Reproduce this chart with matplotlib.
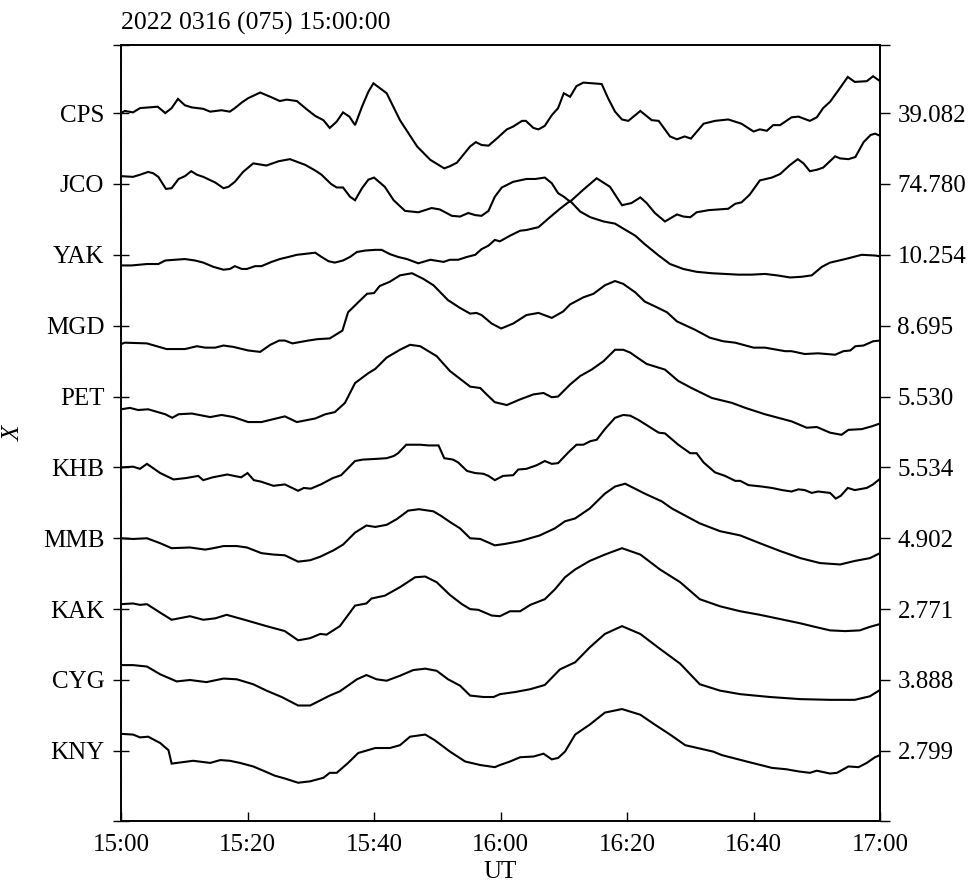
import numpy as np
import matplotlib.pyplot as plt

plt.rcParams['font.family'] = ['Liberation Serif', 'DejaVu Serif']

stations = ['CPS', 'JCO', 'YAK', 'MGD', 'PET', 'KHB', 'MMB', 'KAK', 'CYG', 'KNY']
scales = ['39.082', '74.780', '10.254', '8.695', '5.530',
          '5.534', '4.902', '2.771', '3.888', '2.799']
time_ticks = [0, 20, 40, 60, 80, 100, 120]
time_labels = ['15:00', '15:20', '15:40', '16:00', '16:20', '16:40', '17:00']

# minutes after 15:00 UT / normalised X deflection (1 = trace spacing)
cps_t = [0, 0.6, 1.9, 3.0, 5.8, 7.0, 8.0, 9.0, 10.1, 11.2, 13.0, 14.1, 15.9, 17.2, 18.0,
         19.1, 20.1, 22.0, 23.6, 25.1, 26.2, 27.8, 29.4, 30.7, 32.0, 33.0, 34.1, 35.1, 36.1,
         37.0, 38.1, 39.1, 39.9, 42.0, 44.1, 46.8, 48.9, 51.1, 52.0, 53.1, 55.2, 56.1, 57.0,
         58.1, 59.4, 61.0, 62.0, 63.4, 64.0, 65.2, 66.0, 67.0, 68.1, 69.1, 70.0, 71.0, 72.0,
         73.1, 76.0, 77.0, 78.1, 79.2, 80.2, 82.1, 83.9, 85.0, 86.8, 87.9, 89.1, 90.1, 92.1,
         93.9, 96.0, 98.1, 100.0, 101.0, 102.1, 103.1, 104.2, 106.0, 107.1, 108.9, 110.0,
         111.0, 112.1, 113.4, 114.9, 116.0, 117.9, 118.9, 120]
cps_x = [0.00, 0.03, 0.01, 0.07, 0.09, 0.00, 0.07, 0.20, 0.11, 0.08, 0.06, 0.02, 0.04, 0.02,
         0.07, 0.15, 0.21, 0.29, 0.23, 0.17, 0.19, 0.17, 0.05, -0.04, -0.10, -0.21, -0.12,
         0.01, -0.05, -0.17, 0.09, 0.30, 0.42, 0.28, -0.10, -0.47, -0.66, -0.78, -0.75, -0.70,
         -0.47, -0.41, -0.45, -0.46, -0.36, -0.23, -0.19, -0.11, -0.11, -0.21, -0.23, -0.18,
         -0.03, 0.07, 0.28, 0.23, 0.38, 0.43, 0.41, 0.21, 0.02, -0.09, -0.11, 0.03, -0.10,
         -0.11, -0.33, -0.37, -0.33, -0.36, -0.15, -0.11, -0.09, -0.15, -0.26, -0.23, -0.25,
         -0.17, -0.17, -0.06, -0.05, -0.11, -0.06, 0.07, 0.16, 0.32, 0.51, 0.44, 0.45, 0.52,
         0.45]

jco_t = [0, 1.9, 3.0, 4.3, 5.1, 5.9, 7.1, 8.0, 9.1, 10.1, 11.1, 12.0, 13.0, 14.9, 16.2,
         17.0, 18.0, 19.3, 20.9, 23.0, 24.9, 26.7, 29.1, 30.7, 31.7, 33.2, 34.1, 35.1, 36.2,
         37.0, 38.1, 39.1, 40.0, 41.7, 43.1, 44.9, 47.0, 49.1, 50.4, 52.3, 53.6, 54.9, 56.0,
         57.0, 58.1, 59.1, 60.2, 62.0, 64.1, 65.5, 67.0, 68.1, 69.1, 70.0, 71.0, 73.1, 75.2,
         77.3, 79.2, 80.7, 82.1, 83.1, 84.4, 86.0, 87.9, 88.9, 90.0, 91.0, 92.9, 96.0, 97.1,
         98.1, 99.4, 101.0, 102.9, 104.2, 105.8, 107.0, 107.9, 108.9, 110.0, 111.0, 112.9,
         113.7, 115.0, 116.1, 117.4, 118.5, 119.2, 120]
jco_x = [0.11, 0.10, 0.13, 0.17, 0.15, 0.10, -0.07, -0.06, 0.07, 0.11, 0.18, 0.13, 0.10,
         0.02, -0.06, -0.04, 0.03, 0.17, 0.29, 0.26, 0.32, 0.35, 0.27, 0.19, 0.13, 0.00,
         -0.05, -0.05, -0.18, -0.23, -0.06, 0.06, 0.09, -0.04, -0.23, -0.38, -0.40, -0.34,
         -0.36, -0.45, -0.46, -0.41, -0.44, -0.45, -0.38, -0.18, -0.05, 0.03, 0.07, 0.07,
         0.09, 0.01, -0.13, -0.18, -0.25, -0.08, 0.08, -0.04, -0.30, -0.27, -0.19, -0.27,
         -0.41, -0.53, -0.43, -0.46, -0.47, -0.40, -0.37, -0.35, -0.28, -0.26, -0.15, 0.05,
         0.09, 0.14, 0.27, 0.35, 0.29, 0.18, 0.20, 0.23, 0.39, 0.36, 0.35, 0.38, 0.59, 0.69,
         0.71, 0.68]

yak_t = [0, 1.7, 4.1, 5.9, 7.0, 8.5, 10.1, 11.7, 13.0, 14.6, 16.2, 17.2, 18.0, 19.1, 19.9,
         21.2, 22.2, 23.8, 25.1, 26.5, 27.8, 28.8, 30.7, 31.7, 32.8, 33.8, 35.1, 36.2, 37.3,
         38.6, 40.2, 41.2, 42.5, 43.8, 45.2, 47.0, 48.9, 51.0, 52.0, 53.3, 54.7, 56.0, 57.0,
         58.1, 59.1, 59.9, 61.5, 63.1, 64.1, 66.0, 67.8, 69.4, 71.0, 72.6, 74.2, 76.3, 78.1,
         79.4, 81.3, 82.8, 85.0, 86.8, 88.9, 91.0, 93.4, 95.5, 97.6, 99.7, 101.8, 103.7,
         105.8, 107.6, 109.2, 110.8, 112.1, 114.5, 117.1, 119.2, 120]
yak_x = [-0.15, -0.15, -0.13, -0.13, -0.08, -0.07, -0.06, -0.08, -0.11, -0.17, -0.21,
         -0.20, -0.16, -0.20, -0.20, -0.16, -0.16, -0.10, -0.06, -0.03, 0.00, 0.01, 0.03,
         -0.03, -0.09, -0.11, -0.08, -0.03, 0.04, 0.06, 0.07, 0.07, 0.01, -0.03, -0.06,
         -0.12, -0.07, -0.10, -0.07, -0.07, -0.03, 0.00, 0.08, 0.13, 0.21, 0.19, 0.27, 0.34,
         0.35, 0.39, 0.53, 0.65, 0.76, 0.61, 0.53, 0.47, 0.44, 0.37, 0.27, 0.15, -0.01,
         -0.13, -0.20, -0.24, -0.26, -0.27, -0.28, -0.28, -0.27, -0.29, -0.32, -0.31, -0.29,
         -0.17, -0.11, -0.06, 0.00, -0.01, -0.02]

mgd_t = [0, 0.6, 4.1, 7.2, 10.1, 12.0, 13.3, 14.9, 16.2, 17.8, 20.1, 22.0, 23.6, 25.0, 25.9,
         27.1, 29.6, 31.1, 33.0, 35.0, 35.9, 37.5, 38.9, 40.0, 40.9, 42.5, 44.1, 46.0, 47.8,
         49.4, 51.7, 53.6, 55.2, 56.2, 57.0, 58.6, 60.1, 62.0, 64.1, 66.0, 68.1, 69.9, 71.0,
         73.1, 74.7, 76.5, 78.1, 79.4, 80.5, 81.3, 82.8, 84.7, 86.3, 87.9, 90.8, 93.1, 95.2,
         97.1, 100.0, 101.8, 105.0, 106.0, 108.1, 110.2, 112.9, 114.2, 115.3, 116.1, 117.4,
         118.9, 120]
mgd_x = [-0.26, -0.24, -0.25, -0.33, -0.33, -0.29, -0.31, -0.31, -0.28, -0.30, -0.35,
         -0.37, -0.27, -0.21, -0.21, -0.25, -0.21, -0.19, -0.18, -0.07, 0.19, 0.33, 0.45,
         0.46, 0.56, 0.62, 0.71, 0.74, 0.66, 0.57, 0.36, 0.25, 0.17, 0.18, 0.15, 0.03, -0.04,
         0.03, 0.15, 0.18, 0.11, 0.20, 0.30, 0.40, 0.45, 0.57, 0.63, 0.59, 0.52, 0.47, 0.34,
         0.26, 0.19, 0.06, -0.06, -0.17, -0.22, -0.24, -0.31, -0.31, -0.36, -0.36, -0.40,
         -0.39, -0.41, -0.36, -0.35, -0.29, -0.28, -0.22, -0.21]

pet_t = [0, 1.4, 2.7, 4.3, 7.0, 8.1, 9.1, 11.2, 14.1, 15.9, 17.8, 20.1, 22.2, 25.9, 27.8,
         30.7, 32.3, 33.8, 35.4, 37.0, 39.1, 40.2, 42.0, 44.1, 45.7, 47.3, 49.9, 52.0, 55.2,
         56.8, 57.8, 59.1, 61.0, 63.1, 65.2, 66.8, 68.1, 69.1, 71.0, 72.6, 74.4, 76.3, 78.1,
         79.4, 80.5, 81.3, 83.1, 86.0, 88.1, 90.2, 93.4, 96.6, 98.7, 101.8, 106.0, 108.4,
         110.0, 112.1, 113.9, 115.0, 117.1, 118.7, 120]
pet_x = [-0.18, -0.16, -0.19, -0.18, -0.25, -0.30, -0.25, -0.24, -0.29, -0.26, -0.29,
         -0.36, -0.36, -0.28, -0.36, -0.31, -0.25, -0.22, -0.09, 0.19, 0.33, 0.39, 0.55,
         0.66, 0.73, 0.71, 0.57, 0.36, 0.14, 0.12, 0.03, -0.08, -0.12, -0.04, 0.03, 0.05,
         -0.01, 0.00, 0.17, 0.29, 0.38, 0.50, 0.66, 0.66, 0.62, 0.57, 0.46, 0.38, 0.22, 0.12,
         -0.02, -0.09, -0.16, -0.25, -0.35, -0.44, -0.43, -0.51, -0.54, -0.47, -0.46, -0.42,
         -0.38]

khb_t = [0, 1.9, 3.0, 4.1, 6.2, 8.3, 10.3, 12.2, 13.0, 14.5, 16.8, 19.0, 20.0, 21.0, 22.1,
         24.1, 25.9, 28.0, 28.9, 30.0, 31.6, 33.5, 34.8, 37.0, 38.2, 40.3, 42.0, 43.1, 43.8,
         45.1, 47.3, 48.6, 50.2, 51.1, 52.5, 53.3, 54.7, 56.0, 57.3, 58.1, 59.1, 60.4, 62.0,
         62.8, 64.1, 65.7, 67.0, 68.1, 69.1, 70.7, 72.0, 73.1, 74.2, 75.2, 76.5, 78.1, 79.4,
         80.5, 81.8, 83.4, 85.0, 86.0, 88.1, 90.0, 91.0, 92.1, 93.9, 95.5, 97.1, 97.9, 99.2,
         101.3, 102.9, 104.5, 106.0, 107.1, 108.1, 109.2, 110.2, 112.1, 113.0, 113.8, 114.9,
         116.0, 117.9, 118.9, 120]
khb_x = [0.00, 0.01, -0.02, 0.05, -0.08, -0.17, -0.15, -0.12, -0.18, -0.14, -0.10, -0.14,
         -0.08, -0.18, -0.20, -0.26, -0.24, -0.33, -0.29, -0.30, -0.24, -0.15, -0.11, 0.09,
         0.11, 0.12, 0.13, 0.16, 0.20, 0.32, 0.32, 0.31, 0.31, 0.13, 0.11, 0.07, -0.05, -0.08,
         -0.09, -0.12, -0.18, -0.12, -0.11, -0.03, -0.02, 0.03, 0.09, 0.05, 0.06, 0.21, 0.32,
         0.32, 0.37, 0.39, 0.54, 0.70, 0.74, 0.73, 0.67, 0.58, 0.49, 0.48, 0.32, 0.20, 0.20,
         0.07, -0.07, -0.12, -0.19, -0.19, -0.25, -0.27, -0.29, -0.32, -0.34, -0.31, -0.32,
         -0.36, -0.34, -0.36, -0.44, -0.40, -0.29, -0.32, -0.29, -0.24, -0.16]

mmb_t = [0, 1.9, 4.1, 6.2, 8.0, 10.9, 13.3, 14.6, 16.2, 18.3, 19.9, 22.2, 24.1, 25.9, 28.0,
         29.9, 31.5, 33.6, 35.1, 37.0, 38.8, 40.2, 42.0, 43.6, 45.4, 47.1, 49.4, 50.7, 52.0,
         53.6, 55.2, 56.8, 59.1, 60.7, 63.1, 66.2, 68.6, 70.2, 71.8, 74.1, 76.5, 78.1, 79.7,
         82.8, 85.5, 87.1, 89.4, 91.5, 94.7, 97.9, 101.0, 104.2, 107.4, 110.5, 113.7, 116.0,
         118.4, 120]
mmb_x = [0.00, -0.01, 0.00, -0.07, -0.14, -0.13, -0.16, -0.14, -0.11, -0.11, -0.13, -0.21,
         -0.23, -0.24, -0.33, -0.31, -0.26, -0.17, -0.09, 0.08, 0.18, 0.16, 0.19, 0.27, 0.39,
         0.41, 0.38, 0.31, 0.23, 0.14, 0.00, -0.01, -0.10, -0.08, -0.04, 0.04, 0.14, 0.24,
         0.28, 0.42, 0.63, 0.73, 0.77, 0.63, 0.52, 0.42, 0.31, 0.21, 0.10, 0.04, -0.07, -0.18,
         -0.28, -0.35, -0.37, -0.32, -0.28, -0.21]

kak_t = [0, 1.9, 3.0, 4.1, 6.2, 8.0, 10.9, 13.0, 14.9, 16.7, 19.9, 23.0, 25.9, 28.0, 29.9,
         31.5, 32.5, 34.6, 37.0, 38.8, 39.6, 41.7, 44.1, 46.5, 48.1, 49.9, 52.0, 53.9, 55.2,
         56.5, 58.6, 59.9, 61.5, 63.1, 64.7, 67.0, 68.6, 70.2, 71.8, 74.1, 76.5, 79.2, 82.1,
         85.2, 88.4, 91.5, 94.7, 97.9, 101.0, 104.2, 107.4, 109.7, 112.1, 114.5, 116.8, 118.4,
         120]
kak_x = [0.07, 0.08, 0.06, 0.07, -0.05, -0.15, -0.10, -0.15, -0.13, -0.08, -0.16, -0.24,
         -0.31, -0.44, -0.41, -0.35, -0.36, -0.24, 0.05, 0.08, 0.15, 0.19, 0.31, 0.45, 0.46,
         0.38, 0.20, 0.07, 0.00, -0.01, -0.09, -0.10, -0.03, -0.03, 0.06, 0.14, 0.28, 0.45,
         0.56, 0.68, 0.77, 0.86, 0.77, 0.56, 0.38, 0.14, 0.04, -0.03, -0.08, -0.14, -0.20,
         -0.25, -0.30, -0.31, -0.30, -0.25, -0.21]

cyg_t = [0, 1.9, 4.1, 6.2, 8.8, 10.9, 13.5, 16.2, 18.3, 20.9, 23.0, 25.4, 28.0, 29.9, 33.0,
         34.6, 37.3, 38.8, 40.4, 42.0, 44.1, 46.2, 48.1, 49.9, 51.7, 53.6, 55.2, 57.3, 58.9,
         59.9, 62.3, 64.7, 67.0, 69.4, 71.8, 74.1, 76.5, 79.2, 82.1, 85.2, 88.4, 91.5, 94.7,
         97.9, 102.6, 107.4, 112.1, 116.0, 118.4, 120]
cyg_x = [0.21, 0.21, 0.19, 0.08, -0.02, 0.00, -0.03, 0.02, 0.01, -0.06, -0.15, -0.24, -0.36,
         -0.36, -0.22, -0.16, 0.01, 0.07, 0.01, -0.01, 0.06, 0.14, 0.16, 0.13, 0.01, -0.08,
         -0.22, -0.24, -0.24, -0.20, -0.17, -0.13, -0.07, 0.15, 0.25, 0.46, 0.65, 0.76, 0.65,
         0.44, 0.23, -0.06, -0.15, -0.20, -0.24, -0.27, -0.28, -0.28, -0.23, -0.14]

kny_t = [0, 1.9, 3.0, 4.3, 6.2, 7.5, 8.0, 11.4, 14.1, 15.7, 17.2, 18.8, 20.9, 22.5, 24.3,
         25.9, 28.0, 29.9, 32.0, 33.0, 34.1, 35.9, 37.5, 40.2, 42.5, 44.1, 45.7, 48.1, 49.6,
         52.0, 54.4, 56.8, 59.1, 59.9, 61.5, 63.1, 65.2, 66.8, 68.1, 69.1, 70.2, 71.8, 74.1,
         76.5, 79.2, 82.1, 84.4, 86.8, 89.2, 93.6, 95.0, 98.9, 102.9, 105.2, 107.1, 108.9,
         110.0, 112.1, 113.2, 115.0, 116.6, 117.9, 119.2, 120]
kny_x = [0.24, 0.23, 0.19, 0.20, 0.11, 0.01, -0.18, -0.14, -0.17, -0.13, -0.14, -0.17,
         -0.22, -0.28, -0.35, -0.39, -0.45, -0.43, -0.38, -0.31, -0.31, -0.17, -0.03, 0.04,
         0.04, 0.08, 0.20, 0.23, 0.15, -0.01, -0.15, -0.20, -0.23, -0.20, -0.15, -0.09,
         -0.08, -0.04, -0.12, -0.10, -0.01, 0.23, 0.37, 0.54, 0.59, 0.51, 0.37, 0.23, 0.08,
         -0.01, -0.06, -0.15, -0.24, -0.26, -0.29, -0.31, -0.28, -0.32, -0.31, -0.22, -0.23,
         -0.17, -0.09, -0.06]

traces = [(cps_t, cps_x), (jco_t, jco_x), (yak_t, yak_x), (mgd_t, mgd_x), (pet_t, pet_x),
          (khb_t, khb_x), (mmb_t, mmb_x), (kak_t, kak_x), (cyg_t, cyg_x), (kny_t, kny_x)]

n = len(stations)
levels = [n - i for i in range(n)]
ylo, yhi = 0.01, 10.96

fig = plt.figure(figsize=(9.72, 8.85), dpi=100)
ax = fig.add_axes([0.1245, 0.0723, 0.7809, 0.8768])

for lev, (t, x) in zip(levels, traces):
    ax.plot(t, lev + np.asarray(x), color='black', lw=1.5, solid_joinstyle='miter')

# zero-time marker along the left frame
ax.axvline(0, color='red', lw=0.8, ls=(0, (3, 6)), zorder=3)

ax.set_xlim(0, 120)
ax.set_ylim(ylo, yhi)
for side in ax.spines.values():
    side.set_linewidth(1.2)

ax.set_xticks(time_ticks)
ax.set_xticklabels(time_labels, fontsize=18)
ax.tick_params(axis='x', direction='in', length=6.5, width=1.0, pad=9)

ax.set_yticks([ylo] + levels + [yhi])
ax.set_yticklabels([''] + stations + [''], fontsize=18)
ax.tick_params(axis='y', direction='inout', length=11, width=1.0, pad=6.5)

ax2 = ax.twinx()
ax2.set_ylim(ylo, yhi)
ax2.set_yticks([ylo] + levels + [yhi])
ax2.set_yticklabels([''] + scales + [''], fontsize=18)
ax2.tick_params(axis='y', direction='out', length=7.5, width=1.0, pad=5)
for side in ax2.spines.values():
    side.set_linewidth(1.2)

ax.set_title('2022 0316 (075) 15:00:00', loc='left', fontsize=18.5, pad=11)
ax.set_xlabel('UT', fontsize=18)
ax.xaxis.set_label_coords(0.5, -0.051)
ax.set_ylabel('X', fontsize=18, style='italic')
ax.yaxis.set_label_coords(-0.127, 0.5)

fig.savefig('out.png', dpi=100)
